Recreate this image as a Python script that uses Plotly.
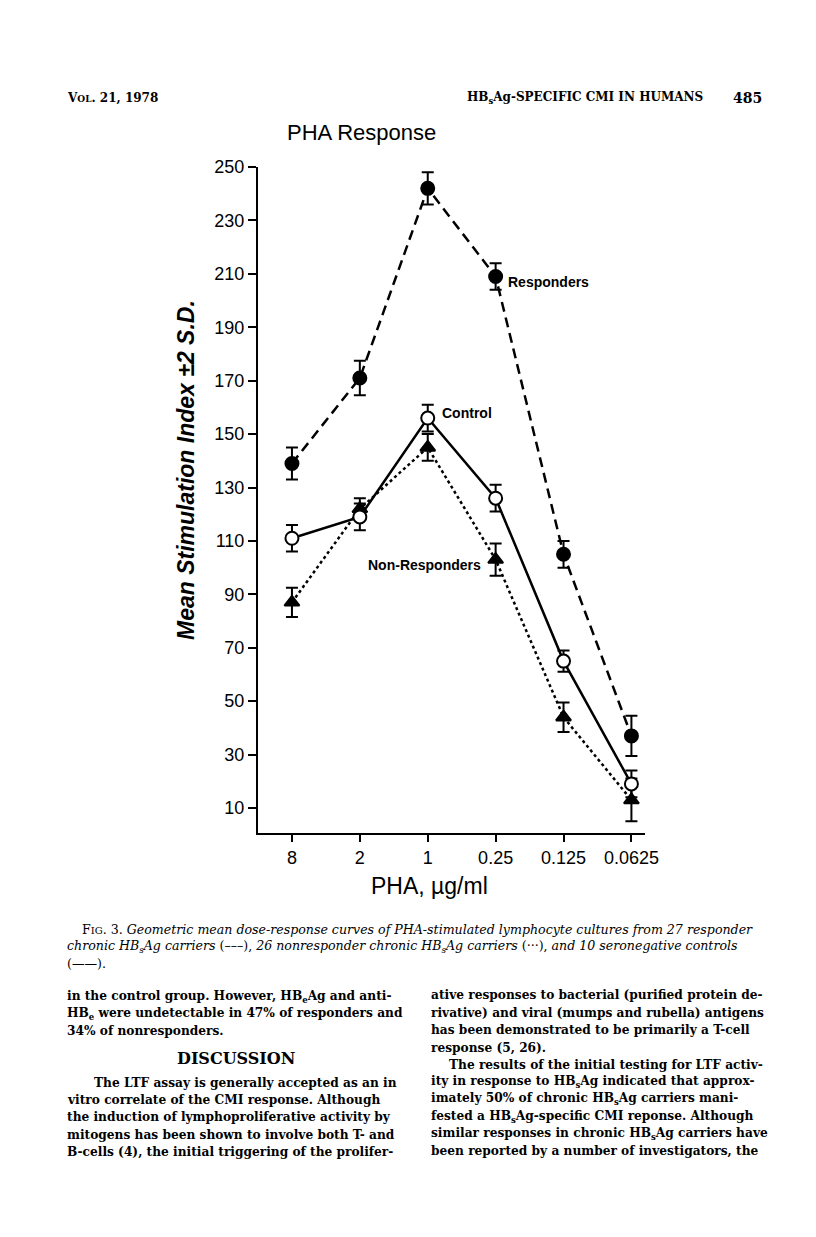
import plotly.graph_objects as go

# ---------------- data ----------------
conc_labels = ["8", "2", "1", "0.25", "0.125", "0.0625"]
y_ticks = [10, 30, 50, 70, 90, 110, 130, 150, 170, 190, 210, 230, 250]

responders = [139, 171, 242, 209, 105, 37]
responders_sd = [6, 6.5, 6, 5, 5, 7.5]

controls = [111, 119, 156, 126, 65, 19]
controls_sd = [5, 5, 5, 5, 4, 5]

nonresponders = [87, 122, 145, 103, 44, 13]
nonresponders_sd = [5.5, 4, 5, 6, 5.5, 8]

# ---------------- layout geometry (screen pixels) ----------------
OFF = 8                      # default body margin of the html page
W, H = 816 - 2 * OFF, 1237 - 2 * OFF
L, R, T, B = 258, 645, 167, 833   # plot area in screenshot coords


def px(x):
    return (x - L) / (R - L)


def py(y):
    return (B - y) / (B - T)


xi = list(range(len(conc_labels)))
SANS = "Liberation Sans, Arial, sans-serif"
SERIF = "DejaVu Serif, Liberation Serif, serif"

fig = go.Figure()


def add_series(y, sd, dash, symbol, fill):
    fig.add_trace(go.Scatter(
        x=xi, y=y, mode="lines+markers",
        line=dict(color="black", width=2.5, dash=dash),
        marker=dict(symbol=symbol, size=13, color=fill,
                    line=dict(color="black", width=2)),
        error_y=dict(type="data", array=sd, visible=True,
                     color="black", thickness=2, width=6),
        showlegend=False, cliponaxis=False,
    ))


add_series(nonresponders, nonresponders_sd, "dot", "triangle-up", "black")
add_series(responders, responders_sd, "10px,6px", "circle", "black")
add_series(controls, controls_sd, "solid", "circle", "white")

fig.update_xaxes(
    range=[-0.5, 5.2], tickvals=xi, ticktext=conc_labels,
    showline=True, linecolor="black", linewidth=2,
    ticks="outside", ticklen=7, tickwidth=2, tickcolor="black",
    showgrid=False, zeroline=False,
    tickfont=dict(family=SANS, size=18, color="black"),
)
fig.update_yaxes(
    range=[0.64, 250], tickvals=y_ticks,
    showline=True, linecolor="black", linewidth=2,
    ticks="outside", ticklen=8, tickwidth=2, tickcolor="black",
    showgrid=False, zeroline=False,
    tickfont=dict(family=SANS, size=18, color="black"),
)

ann = []


def text(x, y, s, size, family=SERIF, anchor="left", color="black", angle=0):
    ann.append(dict(x=px(x), y=py(y), xref="paper", yref="paper", text=s,
                    showarrow=False, xanchor=anchor, yanchor="middle",
                    textangle=angle,
                    font=dict(family=family, size=size, color=color)))


def dlabel(x, y, s, anchor):
    ann.append(dict(x=x, y=y, xref="x", yref="y", text="<b>" + s + "</b>",
                    showarrow=False, xanchor=anchor, yanchor="middle",
                    font=dict(family=SANS, size=14, color="black")))


dlabel(3.15, 207, "Responders", "left")
dlabel(2.18, 158, "Control", "left")
dlabel(2.82, 101, "Non-Responders", "right")

# chart titles
text(361, 132, "PHA Response", 22, SANS, "center")
text(429, 886, "PHA, \u00b5g/ml", 23, SANS, "center")
text(186, 470, "<b><i>Mean Stimulation Index \u00b12 S.D.</i></b>", 23, SANS,
     "center", angle=-90)

# page header
text(65, 98, "<b>V<span style='font-size:9px'>OL</span>. 21, 1978</b>", 12)
text(705, 98, "<b>HB<sub>s</sub>Ag-SPECIFIC CMI IN HUMANS</b>", 12, anchor="right")
text(764, 98, "<b>485</b>", 14, anchor="right")

# caption
cap = [
    (80, 929, "F<span style='font-size:10px'>IG</span>. 3. <i>Geometric mean dose-response curves of PHA-stimulated lymphocyte cultures from 27 responder</i>"),
    (65, 946, "<i>chronic HB<sub>s</sub>Ag carriers</i> (\u2013\u2013\u2013), <i>26 nonresponder chronic HB<sub>s</sub>Ag carriers</i> (\u00b7\u00b7\u00b7), <i>and 10 seronegative controls</i>"),
    (65, 963, "(\u2014\u2014)."),
]
for x, y, s in cap:
    text(x, y, s, 12.6)

left_col = [
    (65, 997, "in the control group. However, HB<sub>e</sub>Ag and anti-"),
    (65, 1014, "HB<sub>e</sub> were undetectable in 47% of responders and"),
    (65, 1031, "34% of nonresponders."),
    (92, 1083, "The LTF assay is generally accepted as an in"),
    (65, 1100, "vitro correlate of the CMI response. Although"),
    (65, 1117, "the induction of lymphoproliferative activity by"),
    (65, 1135, "mitogens has been shown to involve both T- and"),
    (65, 1152, "B-cells (4), the initial triggering of the prolifer-"),
]
right_col = [
    (429, 995, "ative responses to bacterial (purified protein de-"),
    (429, 1013, "rivative) and viral (mumps and rubella) antigens"),
    (429, 1030, "has been demonstrated to be primarily a T-cell"),
    (429, 1048, "response (5, 26)."),
    (447, 1065, "The results of the initial testing for LTF activ-"),
    (429, 1082, "ity in response to HB<sub>s</sub>Ag indicated that approx-"),
    (429, 1099, "imately 50% of chronic HB<sub>s</sub>Ag carriers mani-"),
    (429, 1117, "fested a HB<sub>s</sub>Ag-specific CMI reponse. Although"),
    (429, 1134, "similar responses in chronic HB<sub>s</sub>Ag carriers have"),
    (429, 1151, "been reported by a number of investigators, the"),
]
for x, y, s in left_col + right_col:
    text(x, y, "<b>" + s + "</b>", 12.2)
text(236, 1058, "<b>DISCUSSION</b>", 16, anchor="center")

fig.update_layout(
    width=W, height=H,
    margin=dict(l=L - OFF, r=W - (R - OFF), t=T - OFF, b=H - (B - OFF), pad=0),
    paper_bgcolor="white", plot_bgcolor="white",
    annotations=ann,
)

fig.write_html("out.html")
